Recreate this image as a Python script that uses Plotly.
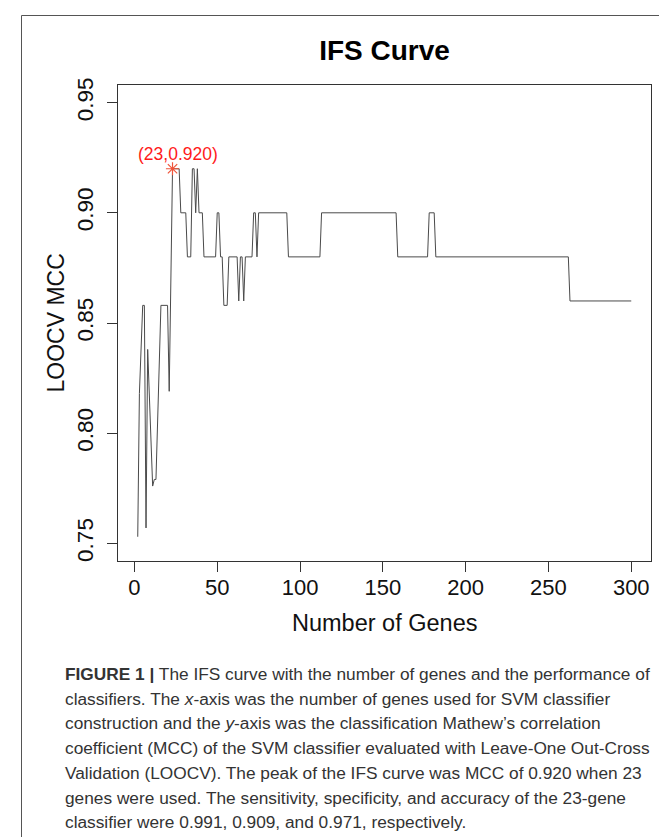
import plotly.graph_objects as go

# ---- data (vertices of the IFS curve) ----
genes = [2, 3, 5, 6, 7, 8, 11, 12, 13, 16, 20, 21, 23, 27, 28, 31, 32, 34, 35, 36,
         37, 38, 39, 41, 42, 49, 50, 51, 52, 53, 54, 56, 57, 62, 63, 64, 65, 66, 67,
         71, 72, 73, 74, 75, 92, 93, 112, 113, 158, 159, 177, 178, 181, 182, 262, 263, 300]
mcc = [0.753, 0.818, 0.858, 0.858, 0.757, 0.838, 0.776, 0.779, 0.779, 0.858, 0.858, 0.819,
       0.920, 0.920, 0.900, 0.900, 0.880, 0.880, 0.920, 0.920,
       0.900, 0.920, 0.900, 0.900, 0.880, 0.880, 0.900, 0.900, 0.880, 0.880, 0.858, 0.858,
       0.880, 0.880, 0.860, 0.880, 0.880, 0.860, 0.880,
       0.880, 0.900, 0.900, 0.880, 0.900, 0.900, 0.880, 0.880, 0.900, 0.900, 0.880, 0.880,
       0.900, 0.900, 0.880, 0.880, 0.860, 0.860]
peak_x = [23]
peak_y = [0.920]
peak_label = "(23,0.920)"

x_ticks = [0, 50, 100, 150, 200, 250, 300]
y_ticks = [0.75, 0.80, 0.85, 0.90, 0.95]
y_ticktext = ["0.75", "0.80", "0.85", "0.90", "0.95"]

title_text = "IFS Curve"
x_title = "Number of Genes"
y_title = "LOOCV MCC"

caption_lines = [
    "<b>FIGURE 1 |</b> The IFS curve with the number of genes and the performance of",
    "classifiers. The <i>x</i>-axis was the number of genes used for SVM classifier",
    "construction and the <i>y</i>-axis was the classification Mathew\u2019s correlation",
    "coefficient (MCC) of the SVM classifier evaluated with Leave-One Out-Cross",
    "Validation (LOOCV). The peak of the IFS curve was MCC of 0.920 when 23",
    "genes were used. The sensitivity, specificity, and accuracy of the 23-gene",
    "classifier were 0.991, 0.909, and 0.971, respectively.",
]

# ---- layout geometry (pixels) ----
W, H = 667, 837
L, R, T, B = 110, 643, 77, 553
pw, ph = R - L, B - T

def px_x(px):
    return (px - L) / pw

def px_y(py):
    return (B - py) / ph

FONT = "Liberation Sans, Arial, Helvetica, sans-serif"

fig = go.Figure()
fig.add_trace(go.Scatter(x=genes, y=mcc, mode="lines",
                         line=dict(color="#4a4a4a", width=1), hoverinfo="skip",
                         showlegend=False))
fig.add_trace(go.Scatter(x=peak_x, y=peak_y, mode="markers",
                         marker=dict(symbol="asterisk-open", size=11,
                                     line=dict(color="#ff1a1a", width=1.2)),
                         showlegend=False))

annotations = [
    dict(x=peak_x[0], y=peak_y[0], xref="x", yref="y", text=peak_label,
         showarrow=False, yanchor="bottom", yshift=3, xshift=5,
         font=dict(family=FONT, size=17.5, color="#ff1a1a")),
    dict(x=0.5, y=px_y(615), xref="paper", yref="paper", text=x_title,
         showarrow=False, xanchor="center", yanchor="middle",
         font=dict(family=FONT, size=23.5, color="#111")),
    dict(x=px_x(47.5), y=0.5, xref="paper", yref="paper", text=y_title,
         showarrow=False, xanchor="center", yanchor="middle", textangle=-90,
         font=dict(family=FONT, size=23, color="#111")),
]
cap_top = 666
cap_step = 24.7
for i, line in enumerate(caption_lines):
    annotations.append(dict(x=px_x(55), y=px_y(cap_top + i * cap_step),
                            xref="paper", yref="paper", text=line,
                            showarrow=False, xanchor="left", yanchor="middle",
                            font=dict(family=FONT, size=17.3, color="#333")))

shapes = [
    dict(type="line", xref="paper", yref="paper",
         x0=px_x(13.5), x1=px_x(13.5), y0=px_y(7.5), y1=px_y(H + 5),
         line=dict(color="#555", width=1)),
    dict(type="line", xref="paper", yref="paper",
         x0=px_x(13.5), x1=px_x(W + 5), y0=px_y(7.5), y1=px_y(7.5),
         line=dict(color="#555", width=1)),
]

fig.update_layout(
    width=W, height=H, autosize=False,
    margin=dict(l=L, r=W - R, t=T, b=H - B, pad=0),
    paper_bgcolor="white", plot_bgcolor="white",
    title=dict(text="<b>" + title_text + "</b>", x=(L + R) / 2 / W,
               xanchor="center", y=1 - 42 / H, yanchor="middle",
               yref="container", xref="container",
               font=dict(family=FONT, size=28, color="#000")),
    annotations=annotations, shapes=shapes,
    xaxis=dict(range=[-9.92, 311.92], tickvals=x_ticks, ticks="outside", ticklen=10,
               tickwidth=1, tickcolor="#333", showline=True, mirror=True,
               linecolor="#333", linewidth=1.2, showgrid=False, zeroline=False,
               tickfont=dict(family=FONT, size=22, color="#111"),
               ticklabelstandoff=-4),
    yaxis=dict(range=[0.742, 0.958], tickvals=y_ticks, ticktext=y_ticktext,
               ticks="outside", ticklen=10, tickwidth=1, tickcolor="#333",
               showline=True, mirror=True, linecolor="#333", linewidth=1.2,
               showgrid=False, zeroline=False, tickangle=-90,
               tickfont=dict(family=FONT, size=22.5, color="#111"),
               ticklabelstandoff=5),
)

fig.write_html("out.html")
